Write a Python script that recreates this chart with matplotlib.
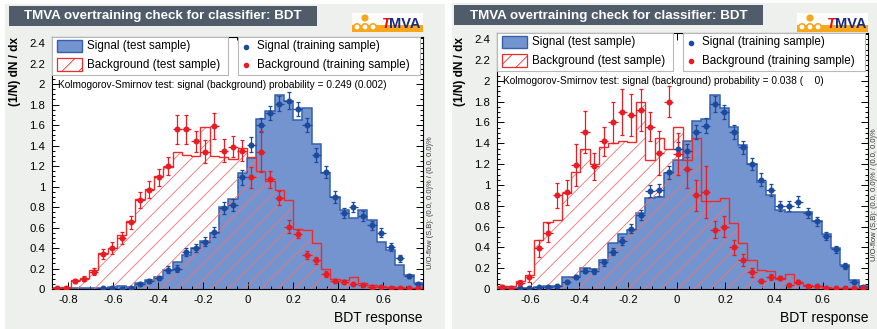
import numpy as np
import matplotlib.pyplot as plt
from matplotlib.patches import Rectangle, Circle
from matplotlib.transforms import Affine2D
from matplotlib.ticker import MultipleLocator

plt.rcParams['font.family'] = ['Liberation Sans', 'DejaVu Sans']
plt.rcParams['hatch.linewidth'] = 0.6

# BDT output, 40 bins, normalised (1/N dN/dx)
nbins = 40
left_range = (-0.871, 0.777)
right_range = (-0.738, 0.785)

left_sig_test = [0.005, 0.005, 0.005, 0.005, 0.008, 0.01, 0.015, 0.03, 0.02, 0.06,
                 0.09, 0.12, 0.19, 0.26, 0.33, 0.40, 0.47, 0.55, 0.80, 0.88,
                 1.13, 1.28, 1.66, 1.74, 1.89, 1.84, 1.65, 1.77, 1.42, 1.13,
                 0.90, 0.77, 0.69, 0.77, 0.67, 0.46, 0.38, 0.23, 0.14, 0.055]
left_bkg_test = [0.013, 0.02, 0.09, 0.11, 0.19, 0.35, 0.40, 0.53, 0.66, 0.88,
                 0.98, 1.10, 1.19, 1.34, 1.31, 1.30, 1.58, 1.30, 1.29, 1.27,
                 1.38, 1.29, 1.15, 1.05, 0.97, 0.87, 0.59, 0.58, 0.45, 0.20,
                 0.10, 0.09, 0.12, 0.06, 0.04, 0.03, 0.02, 0.015, 0.01, 0.01]
left_sig_train = [0, 0, 0, 0, 0, 0.007, 0.007, 0.003, 0.007, 0.05,
                  0.08, 0.11, 0.19, 0.20, 0.36, 0.40, 0.46, 0.56, 0.79, 0.82,
                  1.09, 1.41, 1.60, 1.72, 1.81, 1.84, 1.76, 1.60, 1.31, 1.14,
                  0.90, 0.74, 0.80, 0.71, 0.62, 0.55, 0.41, 0.30, 0.13, 0.05]
left_sig_err = [0, 0, 0, 0, 0, 0.005, 0.005, 0.005, 0.005, 0.015,
                0.02, 0.02, 0.03, 0.03, 0.04, 0.04, 0.045, 0.05, 0.06, 0.06,
                0.07, 0.07, 0.07, 0.07, 0.075, 0.08, 0.07, 0.07, 0.07, 0.06,
                0.06, 0.05, 0.05, 0.05, 0.045, 0.045, 0.04, 0.035, 0.02, 0.015]
left_bkg_train = [0.01, 0.01, 0.08, 0.10, 0.17, 0.34, 0.40, 0.50, 0.65, 0.87,
                  0.97, 1.09, 1.20, 1.56, 1.56, 1.44, 1.34, 1.59, 1.35, 1.39,
                  1.35, 1.09, 1.34, 1.07, 0.89, 0.61, 0.54, 0.33, 0.28, 0.15,
                  0.08, 0.07, 0.05, 0.04, 0.02, 0.015, 0.01, 0.01, 0.01, 0.01]
left_bkg_err = [0.01, 0.01, 0.02, 0.025, 0.035, 0.05, 0.055, 0.06, 0.065, 0.075,
                0.08, 0.085, 0.09, 0.14, 0.14, 0.10, 0.11, 0.13, 0.11, 0.10,
                0.10, 0.10, 0.20, 0.08, 0.07, 0.06, 0.04, 0.04, 0.035, 0.03,
                0.015, 0.015, 0.01, 0.01, 0.01, 0.01, 0.005, 0.005, 0.005, 0.005]

right_sig_test = [0.005, 0.005, 0.005, 0.01, 0.02, 0.025, 0.03, 0.115, 0.12, 0.20,
                  0.19, 0.28, 0.44, 0.53, 0.57, 0.73, 0.87, 0.88, 1.11, 1.24,
                  1.42, 1.61, 1.63, 1.86, 1.74, 1.56, 1.38, 1.20, 1.03, 0.90,
                  0.76, 0.74, 0.74, 0.74, 0.65, 0.53, 0.39, 0.23, 0.09, 0.03]
right_bkg_test = [0.03, 0.03, 0.08, 0.13, 0.47, 0.64, 0.66, 0.92, 1.12, 1.35,
                  1.20, 1.36, 1.40, 1.42, 1.41, 1.80, 1.24, 1.45, 1.35, 1.56,
                  1.24, 1.45, 0.85, 0.85, 0.87, 0.63, 0.44, 0.28, 0.18, 0.17,
                  0.10, 0.14, 0.06, 0.04, 0.03, 0.02, 0.01, 0.005, 0.005, 0.005]
right_sig_train = [0, 0, 0.005, 0.01, 0.016, 0.02, 0.03, 0.07, 0.115, 0.175,
                   0.17, 0.255, 0.36, 0.46, 0.58, 0.71, 0.94, 0.95, 1.12, 1.35,
                   1.33, 1.51, 1.57, 1.78, 1.70, 1.51, 1.36, 1.20, 1.05, 0.95,
                   0.80, 0.80, 0.84, 0.73, 0.65, 0.51, 0.38, 0.22, 0.065, 0.02]
right_sig_err = [0, 0, 0.005, 0.005, 0.005, 0.008, 0.01, 0.015, 0.02, 0.025,
                 0.025, 0.03, 0.035, 0.04, 0.045, 0.05, 0.055, 0.055, 0.06, 0.065,
                 0.065, 0.07, 0.07, 0.075, 0.07, 0.07, 0.065, 0.06, 0.06, 0.055,
                 0.05, 0.05, 0.05, 0.045, 0.045, 0.04, 0.035, 0.03, 0.015, 0.01]
right_bkg_train = [0.02, 0.01, 0.06, 0.12, 0.39, 0.54, 0.90, 0.93, 1.19, 1.51,
                   1.18, 1.42, 1.60, 1.70, 1.67, 1.72, 1.56, 1.31, 1.80, 1.30,
                   1.15, 0.90, 0.93, 0.57, 0.60, 0.40, 0.28, 0.16, 0.08, 0.115,
                   0.105, 0.04, 0.07, 0.03, 0.025, 0.01, 0.01, 0.01, 0.01, 0.01]
right_bkg_err = [0.02, 0.01, 0.03, 0.05, 0.08, 0.09, 0.12, 0.12, 0.20, 0.20,
                 0.13, 0.14, 0.20, 0.22, 0.20, 0.20, 0.14, 0.21, 0.15, 0.20,
                 0.18, 0.15, 0.25, 0.08, 0.10, 0.07, 0.06, 0.04, 0.02, 0.03,
                 0.02, 0.01, 0.02, 0.01, 0.01, 0.005, 0.005, 0.005, 0.005, 0.005]

ks_left = 'Kolmogorov-Smirnov test: signal (background) probability = 0.249 (0.002)'
ks_right = 'Kolmogorov-Smirnov test: signal (background) probability = 0.038 (    0)'
title = 'TMVA overtraining check for classifier: BDT'
uoflow = 'U/O-flow (S,B): (0.0, 0.0)% / (0.0, 0.0)%'

SIG_FILL = '#7494cf'
SIG_LINE = '#3560b0'
SIG_PT = '#1c4a9e'
BKG_LINE = '#ee2a2a'
BKG_PT = '#e81c24'
BKG_HATCH = '#f47070'
PANEL = '#eef0ee'

W, H = 877, 329
fig = plt.figure(figsize=(W / 100, H / 100), dpi=100)
fig.patch.set_facecolor('white')
# pixel coordinates, origin at the top-left corner of the canvas
px = Affine2D().scale(1 / W, -1 / H).translate(0, 1) + fig.transFigure


def draw_logo(x0, y0):
    fig.add_artist(Rectangle((x0, y0), 71, 19, transform=px, facecolor='white',
                             edgecolor='none', zorder=1))
    fig.add_artist(Rectangle((x0, y0 + 12), 71, 7, transform=px, facecolor='#f8a61c',
                             edgecolor='none', zorder=2))
    fig.add_artist(Circle((x0 + 13, y0 + 5), 3.6, transform=px, facecolor='#f8a61c',
                          edgecolor='none', zorder=3))
    for dx in (5, 13, 21):
        fig.add_artist(Circle((x0 + dx, y0 + 14), 3.2, transform=px, facecolor='white',
                              edgecolor='#f8a61c', lw=1.2, zorder=3))
    fig.text(x0 + 30, y0 + 15, 'T', transform=px, color='#e01010', fontsize=10.5,
             fontweight='bold', fontstyle='italic', ha='left', va='baseline', zorder=4)
    fig.text(x0 + 37.5, y0 + 15, 'MVA', transform=px, color='#1a2a80', fontsize=10.5,
             fontweight='bold', ha='left', va='baseline', zorder=4)


def draw_panel(x0, y_top, xr, sig_test, bkg_test, sig_train, sig_err,
               bkg_train, bkg_err, ks_text, frame, title_box, logo_xy, uo_xy):
    # grey canvas behind the pad
    fx, fy, fw, fh = frame
    fig.add_artist(Rectangle((fx, fy), fw, fh, transform=px, facecolor=PANEL,
                             edgecolor='none', zorder=-2))
    tx, ty, tw, th = title_box
    fig.add_artist(Rectangle((tx, ty), tw, th, transform=px, facecolor='#505c69',
                             edgecolor='none', zorder=1))
    fig.text(tx + tw / 2, ty + th / 2 + 0.5, title, transform=px, color='white',
             fontsize=9.6, fontweight='bold', ha='center', va='center', zorder=2)
    draw_logo(*logo_xy)

    width, bottom = 371, 289
    ax = fig.add_axes([x0 / W, 1 - bottom / H, width / W, (bottom - y_top) / H])
    ax.set_facecolor('white')

    edges = np.linspace(xr[0], xr[1], nbins + 1)
    centers = 0.5 * (edges[:-1] + edges[1:])
    half = 0.5 * (edges[1] - edges[0])

    ax.stairs(sig_test, edges, fill=True, color=SIG_FILL, zorder=1)
    ax.stairs(sig_test, edges, color=SIG_LINE, lw=1.1, zorder=2)
    ax.stairs(bkg_test, edges, fill=True, facecolor='none', edgecolor=BKG_HATCH,
              hatch='//', lw=0, zorder=3)
    ax.stairs(bkg_test, edges, color=BKG_LINE, lw=1.0, zorder=4)

    for vals, errs, col in ((sig_train, sig_err, SIG_PT), (bkg_train, bkg_err, BKG_PT)):
        v = np.asarray(vals, dtype=float)
        e = np.asarray(errs, dtype=float)
        m = v > 0
        ax.errorbar(centers[m], v[m], xerr=half, fmt='none', ecolor=col,
                    elinewidth=0.9, capsize=0, zorder=5)
        ax.errorbar(centers[m], v[m], yerr=e[m], fmt='o', color=col, ms=3.3,
                    mec=col, elinewidth=0.9, capsize=1.6, capthick=0.9, zorder=6)

    ax.set_xlim(xr)
    ax.set_ylim(0, 2.46)
    ax.xaxis.set_major_locator(MultipleLocator(0.2))
    ax.xaxis.set_minor_locator(MultipleLocator(0.05))
    ax.yaxis.set_major_locator(MultipleLocator(0.2))
    ax.yaxis.set_minor_locator(MultipleLocator(0.05))
    ax.tick_params(which='both', direction='in', top=True, right=True,
                   width=0.7, labelsize=8.2)
    ax.tick_params(which='major', length=5)
    ax.tick_params(which='minor', length=2.5)
    ax.tick_params(axis='x', pad=4)
    ax.tick_params(axis='y', pad=5)
    ax.yaxis.set_major_formatter(plt.FuncFormatter(lambda v, p: f'{v:g}'))
    ax.xaxis.set_major_formatter(plt.FuncFormatter(lambda v, p: f'{v:g}'))
    for s in ax.spines.values():
        s.set_linewidth(0.8)

    # legend boxes drawn in axes-pixel terms
    def to_ax(xp, yp):
        return (xp - x0) / width, (bottom - yp) / (bottom - y_top)

    def box(xa, xb, ya, yb, **kw):
        (u0, v0), (u1, v1) = to_ax(xa, yb), to_ax(xb, ya)
        ax.add_patch(Rectangle((u0, v0), u1 - u0, v1 - v0, transform=ax.transAxes,
                               clip_on=False, **kw))

    def label(xp, yp, s, **kw):
        u, v = to_ax(xp, yp)
        ax.text(u, v, s, transform=ax.transAxes, va='center', ha='left', **kw)

    box(x0, x0 + 176, y_top, y_top + 38, facecolor='white', edgecolor='#b8b8b8',
        lw=0.8, zorder=7)
    box(x0 + 186, x0 + 368, y_top, y_top + 38, facecolor='white', edgecolor='#b8b8b8',
        lw=0.8, zorder=7)
    box(x0 + 5, x0 + 30, y_top + 3, y_top + 15, facecolor=SIG_FILL, edgecolor=SIG_LINE,
        lw=1.0, zorder=8)
    box(x0 + 5, x0 + 30, y_top + 21, y_top + 34, facecolor='white', edgecolor=BKG_LINE,
        hatch='//', lw=0.9, zorder=8)
    label(x0 + 35, y_top + 9.5, 'Signal (test sample)', fontsize=8.4, zorder=9)
    label(x0 + 35, y_top + 28, 'Background (test sample)', fontsize=8.4, zorder=9)
    for yy, col, s in ((y_top + 9.5, SIG_PT, 'Signal (training sample)'),
                       (y_top + 28, BKG_PT, 'Background (training sample)')):
        u, v = to_ax(x0 + 194, yy)
        ax.plot([u], [v], 'o', ms=3, color=col, transform=ax.transAxes,
                clip_on=False, zorder=9)
        label(x0 + 205, yy, s, fontsize=8.4, zorder=9)
    label(x0 + 6, y_top + 48, ks_text, fontsize=7.3, zorder=9)

    # axis titles, ROOT style: flush with the axis ends
    fig.text(x0 - 37, 37, '(1/N) dN / dx', transform=px, rotation=90, ha='center',
             va='top', fontsize=8.6, fontweight='bold')
    fig.text(x0 + width, 318, 'BDT response', transform=px, ha='right', va='center',
             fontsize=10)
    fig.text(uo_xy[0], uo_xy[1], uoflow, transform=px, rotation=90, ha='center',
             va='center', fontsize=5.4, color='#333333')
    return ax


draw_panel(52, 37, left_range, left_sig_test, left_bkg_test, left_sig_train,
           left_sig_err, left_bkg_train, left_bkg_err, ks_left,
           frame=(5, 4, 440, 325), title_box=(9, 6, 308, 20),
           logo_xy=(352, 13), uo_xy=(430, 203))
draw_panel(497, 33, right_range, right_sig_test, right_bkg_test, right_sig_train,
           right_sig_err, right_bkg_train, right_bkg_err, ks_right,
           frame=(452, 3, 425, 326), title_box=(454, 5, 309, 20),
           logo_xy=(797, 13), uo_xy=(875, 195))

fig.savefig('out.png', dpi=100)
